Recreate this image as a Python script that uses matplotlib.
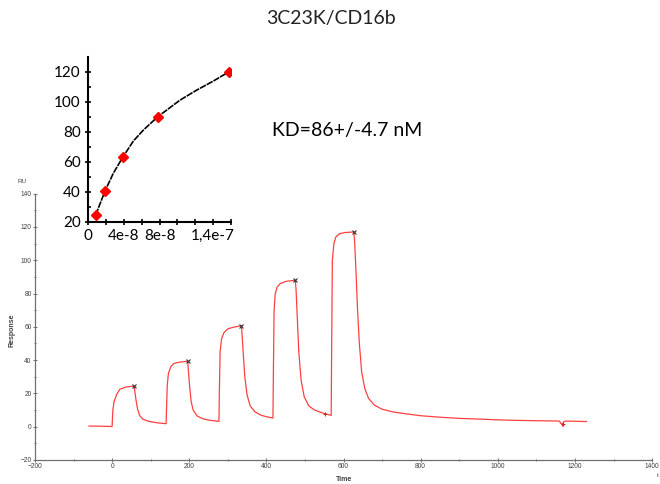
import numpy as np
import matplotlib
matplotlib.use("Agg")
import matplotlib.pyplot as plt
from matplotlib.ticker import MultipleLocator

# sensorgram (time in s, response in RU)
time = [-60, -30, 0, 1, 2, 5, 12, 20, 35, 57,
        59, 62, 66, 72, 80, 95, 115, 140,
        141, 143, 146, 152, 160, 175, 196,
        198, 201, 205, 210, 220, 235, 255, 277,
        278, 280, 284, 290, 300, 315, 335,
        337, 340, 344, 350, 358, 370, 385, 400, 417,
        418, 420, 423, 428, 436, 450, 475,
        477, 480, 484, 490, 498, 510, 525, 545, 560, 568,
        569, 571, 575, 580, 590, 605, 627,
        629, 632, 636, 641, 647, 655, 665, 680, 700, 730, 770, 800,
        850, 900, 960, 1000, 1050, 1100, 1160, 1163, 1166, 1168, 1170,
        1175, 1230]
response = [0.4, 0.3, 0.1, 6, 10, 15, 19.5, 22.5, 23.8, 24.4,
            21, 16, 10.5, 6.5, 4.5, 3.2, 2.4, 1.8,
            10, 25, 32, 36, 38, 38.8, 39.3,
            33, 24, 15, 10, 6.5, 4.8, 3.8, 3.2,
            20, 45, 53, 56.5, 58.8, 59.8, 60.7,
            55, 44, 30, 19, 12.5, 9, 7, 6, 5.2,
            30, 70, 80, 84, 86, 87.3, 88,
            82, 66, 45, 28, 18, 12.5, 10, 8.3, 7.3, 6.8,
            40, 100, 110, 114, 116, 116.7, 117,
            110, 95, 72, 50, 33, 23, 17, 13, 10.5, 8.8, 7.5, 6.6,
            5.7, 5.0, 4.5, 4.1, 3.8, 3.6, 3.4, 2.0, 1.8, 0.3, 2.8,
            3.4, 3.1]

# report points at the end of each injection
report_t = [57, 196, 335, 475, 627]
report_r = [24.5, 39.3, 60.8, 88, 117]
flag_t = [552, 1168]
flag_r = [7.8, 1.5]

# steady-state affinity plot
conc = [8.3e-9, 1.88e-8, 3.86e-8, 7.8e-8, 1.58e-7]
req = [24.5, 40.5, 62.9, 90, 120]
fit_c = [8.3e-9, 1.88e-8, 2.81e-8, 3.86e-8, 5.06e-8, 6.18e-8, 7.8e-8,
         1.03e-7, 1.218e-7, 1.404e-7, 1.58e-7]
fit_r = [24.5, 40.5, 52.3, 62.9, 73.8, 81.1, 90, 101.1, 107.8, 113.8, 120]
inset_xticks = [0, 2e-8, 4e-8, 6e-8, 8e-8, 1e-7, 1.2e-7, 1.4e-7, 1.6e-7]
inset_xlabels = ["0", "", "4e-8", "", "8e-8", "", "", "1,4e-7", ""]

fig = plt.figure(figsize=(6.6, 4.84), dpi=100)

ax = fig.add_axes([0.053, 0.0496, 0.935, 0.5502])
ax.plot(time, response, color="#ff4040", lw=0.9)
ax.plot(report_t, report_r, ls="none", marker="x", ms=2.5, mew=0.8, color="#333333")
ax.plot(flag_t, flag_r, ls="none", marker="+", ms=3, mew=0.7, color="#cc2020")
ax.set_xlim(-200, 1400)
ax.set_ylim(-20, 140)
ax.xaxis.set_major_locator(MultipleLocator(200))
ax.xaxis.set_minor_locator(MultipleLocator(100))
ax.yaxis.set_major_locator(MultipleLocator(20))
ax.yaxis.set_minor_locator(MultipleLocator(10))
for s in ["top", "right"]:
    ax.spines[s].set_visible(False)
for s in ["left", "bottom"]:
    ax.spines[s].set_color("#707070")
    ax.spines[s].set_linewidth(0.9)
ax.tick_params(which="both", direction="inout", colors="#707070",
               labelcolor="#404040", labelsize=4.8, length=3, width=0.7, pad=1)
ax.tick_params(which="minor", length=2)
for lab in ax.get_xticklabels() + ax.get_yticklabels():
    lab.set_family("Liberation Sans")
fig.text(0.026, 0.622, "RU", fontsize=4.5, family="Liberation Sans", color="#404040")
fig.text(0.018, 0.318, "Response", fontsize=5, family="Liberation Sans",
         weight="bold", rotation=90, ha="center", va="center", color="#404040")
fig.text(0.521, 0.010, "Time", fontsize=5, family="Liberation Sans",
         weight="bold", ha="center", va="center", color="#404040")
fig.text(0.997, 0.018, "t", fontsize=4.5, family="Liberation Sans",
         ha="center", va="center", color="#404040")

ins = fig.add_axes([0.1338, 0.542, 0.2158, 0.340])
ins.plot(fit_c, fit_r, color="black", lw=1.2, ls=(0, (4, 0.6)))
ins.plot(conc, req, ls="none", marker="D", ms=5, color="red", mec="red")
ins.set_xlim(0, 1.6e-7)
ins.set_ylim(20, 129.8)
ins.set_xticks(inset_xticks)
ins.set_xticklabels(inset_xlabels)
ins.yaxis.set_major_locator(MultipleLocator(20))
ins.yaxis.set_minor_locator(MultipleLocator(10))
for s in ["top", "right"]:
    ins.spines[s].set_visible(False)
for s in ["left", "bottom"]:
    ins.spines[s].set_linewidth(1.5)
ins.tick_params(which="both", direction="inout", length=5, width=1.2,
                labelsize=11, pad=3)
ins.tick_params(which="minor", direction="in", length=2.5)
for lab in ins.get_xticklabels() + ins.get_yticklabels():
    lab.set_family("Lato")

fig.text(0.502, 0.962, "3C23K/CD16b", fontsize=14, family="Lato",
         ha="center", va="center", color="#222222")
fig.text(0.412, 0.731, "KD=86+/-4.7 nM", fontsize=14, family="Lato",
         ha="left", va="center", color="black")

fig.savefig("out.png", dpi=100)
